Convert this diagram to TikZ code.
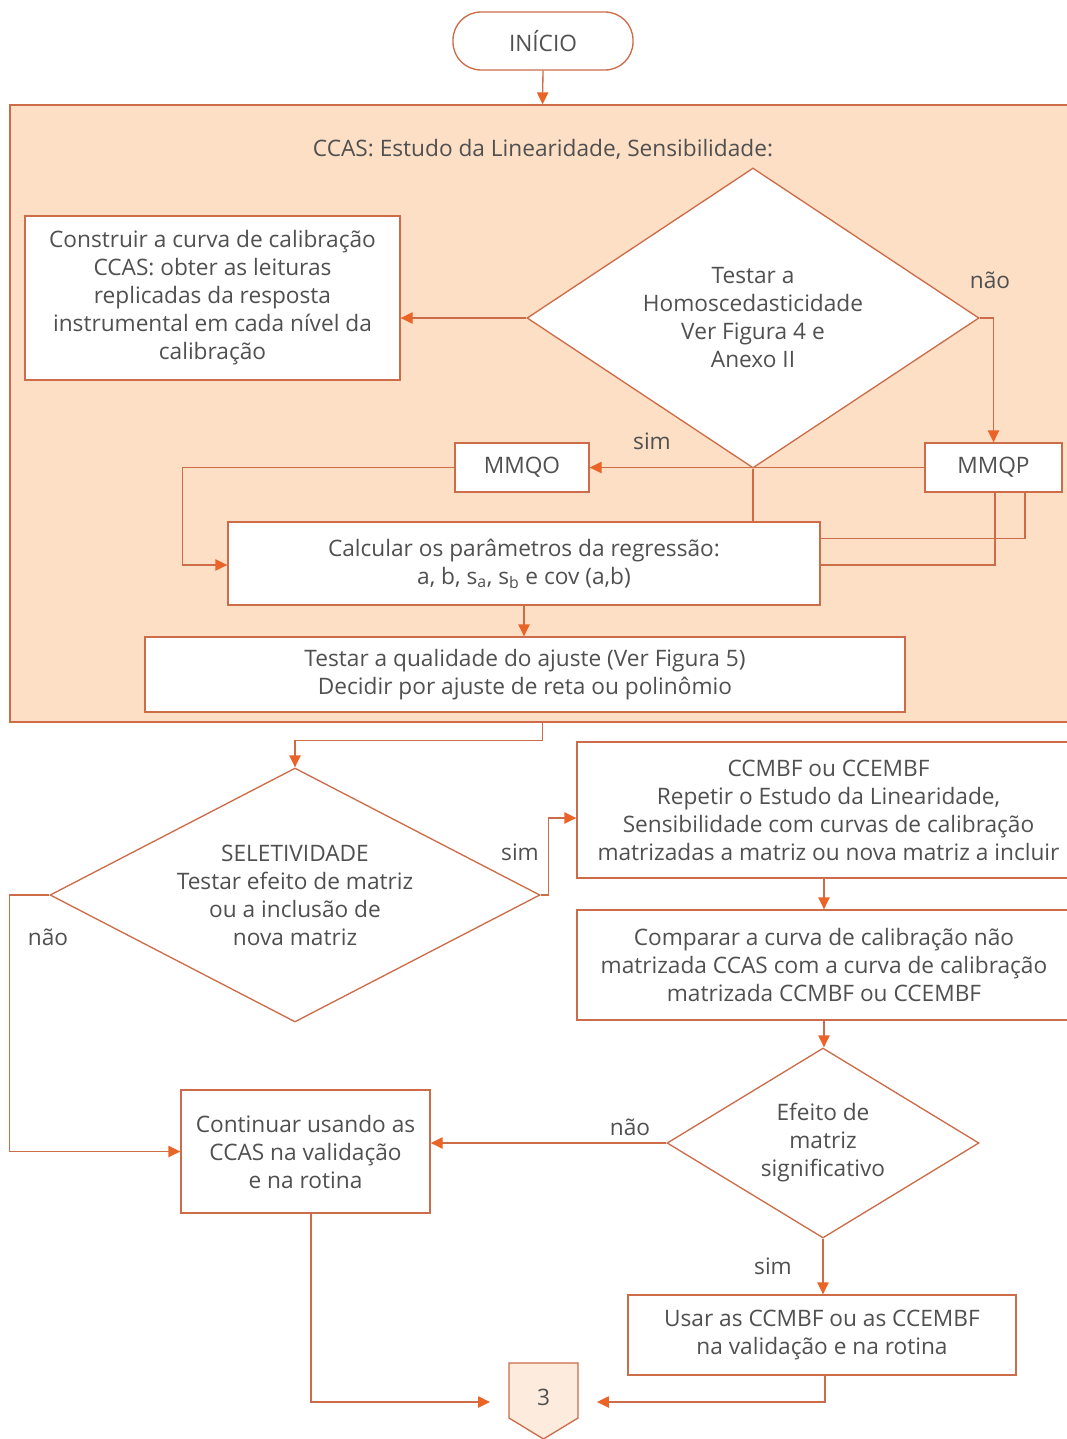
\documentclass[tikz,border=0pt]{standalone}
\usepackage{fontspec}
\setmainfont{Open Sans}
\usetikzlibrary{arrows.meta,shapes.geometric,calc}
\definecolor{edge}{RGB}{205,108,72}
\definecolor{tip}{RGB}{234,100,40}
\definecolor{panel}{RGB}{252,223,197}
\definecolor{ink}{RGB}{80,80,80}
\definecolor{offfill}{RGB}{253,236,222}
\begin{document}
\begin{tikzpicture}[x=0.75pt,y=-0.75pt,
  font=\fontsize{17}{21}\selectfont,
  every node/.style={text=ink},
  box/.style={draw=edge, line width=1pt, fill=white, rectangle, inner sep=0pt, align=center},
  dec/.style={draw=edge, line width=1pt, fill=white, diamond, inner sep=0pt, align=center},
  conn/.style={draw=edge, line width=1pt},
  arr/.style={conn, -{Triangle[length=9pt,width=8.5pt,color=tip]}},
  lab/.style={inner sep=0pt}]
\useasboundingbox (0,0) rectangle (1067,1439);
\clip (0,0) rectangle (1067,1439);

% start
\node[box, rounded corners=21pt, minimum width=135pt, minimum height=43.5pt] (inicio) at (543,41) {INÍCIO};

% CCAS panel
\node[draw=edge, line width=1pt, fill=panel, minimum width=798.75pt, minimum height=462.75pt, inner sep=0pt] (ccas) at (542.5,413.5) {};
\node[lab] (title) at (543,149) {CCAS: Estudo da Linearidade, Sensibilidade:};

\node[dec, aspect=1.5, minimum width=339pt, minimum height=225pt] (homo) at (753,318)
  {Testar a\\Homoscedasticidade\\Ver Figura 4 e\\Anexo II};
\node[box, minimum width=281.25pt, minimum height=123pt] (constr) at (212.5,298)
  {Construir a curva de calibração\\CCAS: obter as leituras\\replicadas da resposta\\instrumental em cada nível da\\calibração};
\node[box, minimum width=102.75pt, minimum height=36.75pt] (mmqp) at (993.5,467.5) {MMQP};
\node[box, minimum width=100.5pt, minimum height=36.75pt] (mmqo) at (522,467.5) {MMQO};
\node[box, minimum width=444pt, minimum height=62.25pt] (calc) at (524,563.5)
  {Calcular os parâmetros da regressão:\\a, b, s\textsubscript{a}, s\textsubscript{b} e cov (a,b)};
\node[box, minimum width=570pt, minimum height=56.25pt] (qual) at (525,674.5)
  {Testar a qualidade do ajuste (Ver Figura 5)\\Decidir por ajuste de reta ou polinômio};

\node[lab] (lnao1) at (990,280) {não};
\node[lab] (lsim1) at (652,441) {sim};

% matrix effect study
\node[dec, aspect=1.93, minimum width=367.5pt, minimum height=190.5pt] (sel) at (295,895)
  {SELETIVIDADE\\Testar efeito de matriz\\ou a inclusão de\\nova matriz};
\node[box, minimum width=377.25pt, minimum height=102pt] (ccm) at (828.5,810)
  {CCMBF ou CCEMBF\\Repetir o Estudo da Linearidade,\\Sensibilidade com curvas de calibração\\matrizadas a matriz ou nova matriz a incluir};
\node[box, minimum width=370.5pt, minimum height=82.5pt] (comp) at (824,965)
  {Comparar a curva de calibração não\\matrizada CCAS com a curva de calibração\\matrizada CCMBF ou CCEMBF};
\node[dec, aspect=1.64, minimum width=234pt, minimum height=142.5pt] (efe) at (823,1143)
  {Efeito de\\matriz\\significativo};
\node[box, minimum width=186.75pt, minimum height=92.25pt] (cont) at (305.5,1151.5)
  {Continuar usando as\\CCAS na validação\\e na rotina};
\node[box, minimum width=291pt, minimum height=60pt] (usar) at (822,1335)
  {Usar as CCMBF ou as CCEMBF\\na validação e na rotina};

\node[lab] (lsim2) at (520,852) {sim};
\node[lab] (lnao2) at (48,937) {não};
\node[lab] (lnao3) at (630,1127) {não};
\node[lab] (lsim3) at (773,1266) {sim};

% off-page connector
\coordinate (offc) at (543.5,1397);
\draw[conn, fill=offfill] ($(offc)+(-34.5,-34)$) -- ($(offc)+(34.5,-34)$) -- ($(offc)+(34.5,21)$)
  -- ($(offc)+(0,42)$) -- ($(offc)+(-34.5,21)$) -- cycle;
\node[inner sep=0pt, minimum width=51.75pt, minimum height=30pt] (off) at (offc) {3};

% connectors
\draw[arr] (inicio.south) -- (ccas.north);
\draw[arr] (homo.west) -- (homo.west -| constr.east);
\draw[arr] (homo.east) -| (mmqp.north);
\draw[arr] (mmqp.west) -- (mmqo.east);
\draw[conn] (homo.south) -- (homo.south |- calc.north);
\draw[arr] (mmqo.west) -- ++(-272,0) |- ($(calc.west)+(0,1.5)$);
\draw[conn] ($(mmqp.south)+(31.5,0)$) |- ($(calc.north east)+(0,17)$);
\draw[conn] ($(mmqp.south)+(1.5,0)$) |- ($(calc.east)+(0,1.5)$);
\draw[arr] (calc.south) -- (calc.south |- qual.north);
\draw[arr] (ccas.south) -- ++(0,18) -| (sel.north);
\draw[arr] (sel.east) -- ++(8,0) |- ($(ccm.west)+(0,8)$);
\draw[arr] (sel.west) -- ++(-40,0) |- (cont.west);
\draw[arr] (ccm.south -| comp.north) -- (comp.north);
\draw[arr] (comp.south) -- (comp.south |- efe.north);
\draw[arr] (efe.west) -- (efe.west -| cont.east);
\draw[arr] (efe.south) -- (efe.south |- usar.north);
\draw[arr, shorten >=14pt] ($(cont.south)+(5.5,0)$) |- ($(off.west)+(0,5)$);
\draw[arr, shorten >=14pt] ($(usar.south)+(3,0)$) |- ($(off.east)+(0,5)$);
\end{tikzpicture}
\end{document}
